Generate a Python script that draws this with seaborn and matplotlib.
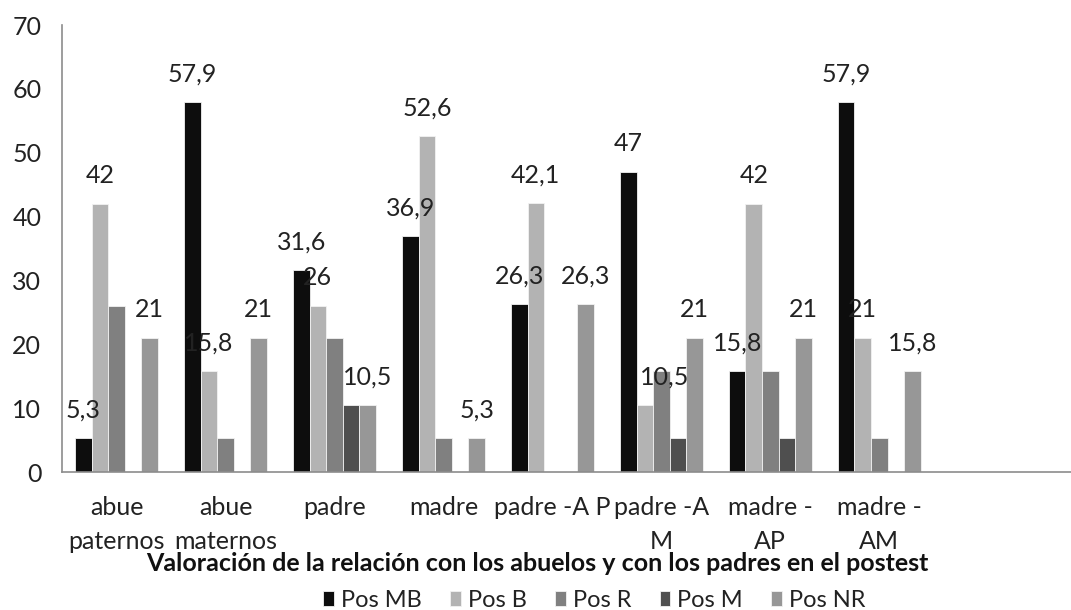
import matplotlib
matplotlib.use("Agg")
import matplotlib.pyplot as plt
import seaborn as sns
import pandas as pd

categories = ["abue\npaternos", "abue\nmaternos", "padre", "madre", "padre -A P",
              "padre -A\nM", "madre -\nAP", "madre -\nAM"]
series = ["Pos MB", "Pos B", "Pos R", "Pos M", "Pos NR"]
pos_mb = [5.3, 57.9, 31.6, 36.9, 26.3, 47, 15.8, 57.9]
pos_b = [42, 15.8, 26, 52.6, 42.1, 10.5, 42, 21]
pos_r = [26, 5.3, 21, 5.3, 0, 15.8, 15.8, 5.3]
pos_m = [0, 0, 10.5, 0, 0, 5.3, 5.3, 0]
pos_nr = [21, 21, 10.5, 5.3, 26.3, 21, 21, 15.8]
y_ticks = [0, 10, 20, 30, 40, 50, 60, 70]
x_title = "Valoración de la relación con los abuelos y con los padres en el postest"

colors = ["#0d0d0d", "#b3b3b3", "#808080", "#4f4f4f", "#979797"]
labelled = {"Pos MB", "Pos B", "Pos NR"}

values = [pos_mb, pos_b, pos_r, pos_m, pos_nr]
rows = []
for s, vals in zip(series, values):
    for c, v in zip(categories, vals):
        rows.append({"cat": c, "serie": s, "val": v})
df = pd.DataFrame(rows)

sns.set_style("white")
plt.rcParams["font.family"] = ["Lato", "DejaVu Sans"]

fig = plt.figure(figsize=(10.71, 6.10), dpi=100)
ax = fig.add_axes([0.058, 0.226, 0.942, 0.733])

sns.barplot(data=df, x="cat", y="val", hue="serie", order=categories,
            hue_order=series, palette=colors, saturation=1, width=0.76,
            edgecolor="#f2f2f2", linewidth=0.6, ax=ax, legend=True)

ax.set_xlim(-0.5, 8.76)
ax.set_ylim(0, 70)
ax.set_yticks(y_ticks)
ax.set_yticklabels([str(t) for t in y_ticks])
ax.set_xticks(range(len(categories)))
ax.set_xticklabels(categories, linespacing=1.6)
ax.tick_params(axis="y", length=0, pad=15, labelsize=18, colors="#222222")
ax.tick_params(axis="x", length=0, pad=17, labelsize=18, colors="#222222")
ax.set_xlabel("")
ax.set_ylabel("")
for side in ["top", "right"]:
    ax.spines[side].set_visible(False)
for side in ["left", "bottom"]:
    ax.spines[side].set_color("#8c8c8c")
    ax.spines[side].set_linewidth(1.2)

for cont, s, vals in zip(ax.containers, series, values):
    if s not in labelled:
        continue
    labs = [f"{v:g}".replace(".", ",") for v in vals]
    texts = ax.bar_label(cont, labels=labs, padding=12, fontsize=18, color="#222222")
    if s == "Pos B":
        texts[5].xyann = (14, 12)

handles, labels = ax.get_legend_handles_labels()
ax.legend_.remove()
fig.legend(handles, labels, loc="center", bbox_to_anchor=(0.555, 0.016), ncol=5,
           frameon=False, fontsize=17, handlelength=0.45, handleheight=0.6,
           handletextpad=0.3, columnspacing=1.2, labelcolor="#222222")

fig.text(0.502, 0.077, x_title, ha="center", va="center", fontsize=18,
         fontweight="bold", color="#111111")

fig.savefig("out.png", dpi=100)
